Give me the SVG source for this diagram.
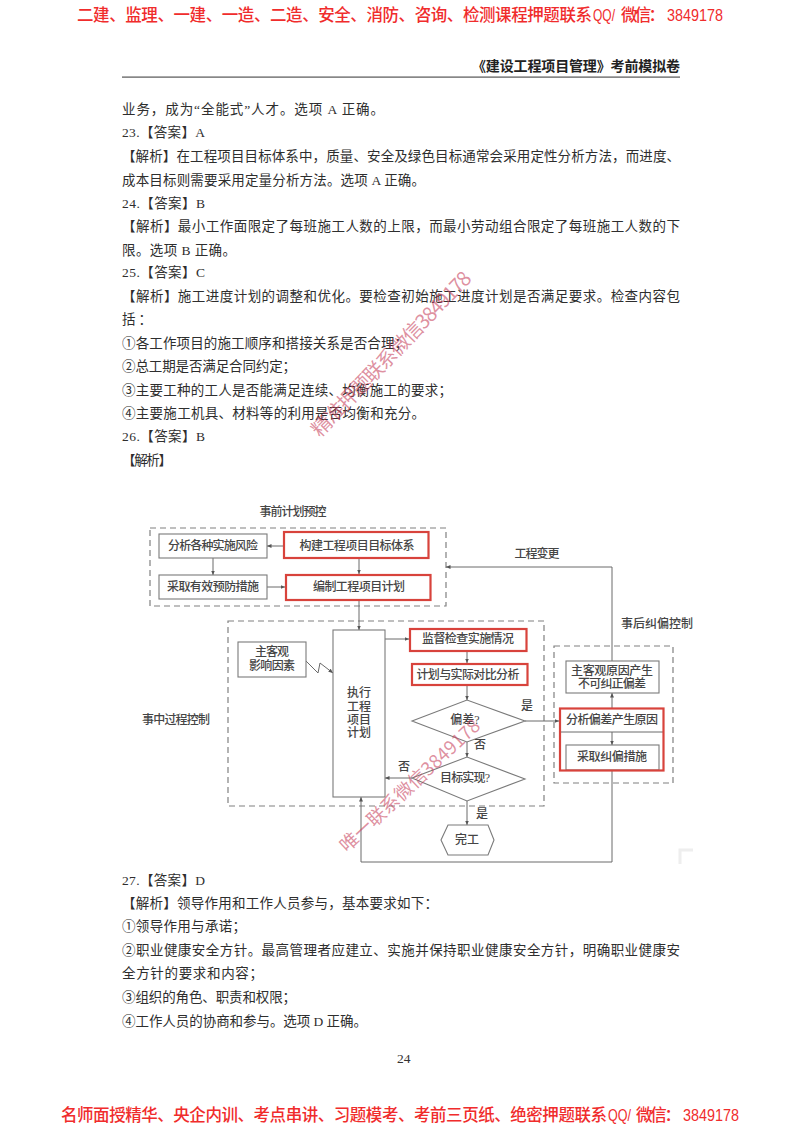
<svg xmlns="http://www.w3.org/2000/svg" width="800" height="1132" viewBox="0 0 800 1132">
<style>
text{font-family:"Liberation Serif","Noto Sans CJK SC",serif}
.b{font-size:13.5px;fill:#2e2e2e}
.hd{font-size:14px;font-weight:700;fill:#222}
.ban{font-size:16.5px;font-weight:500;fill:#f02c2c;font-family:"Liberation Sans","Noto Sans CJK SC",sans-serif}
.t{font-size:12px;fill:#454545;text-anchor:middle;font-weight:500}
.box{fill:#fff;stroke:#7a7a7a;stroke-width:1.1}
.red{fill:none;stroke:#d8433c;stroke-width:2.2}
.dash{fill:none;stroke:#808080;stroke-width:1.2;stroke-dasharray:6 4}
.c{fill:none;stroke:#6a6a6a;stroke-width:1}
.wm{font-size:20px;fill:#c8465f;fill-opacity:.6;font-family:"Noto Sans CJK SC",sans-serif}
</style>
<defs>
<marker id="a" markerWidth="6" markerHeight="6" refX="4.500" refY="2" orient="auto" markerUnits="userSpaceOnUse"><path d="M0 0L4.500 2L0 4z" fill="#555"/></marker>
</defs>
<rect width="800" height="1132" fill="#fff"/>

<g id="page-text">
<text class="ban" x="77" y="20.500" textLength="515">二建、监理、一建、一造、二造、安全、消防、咨询、检测课程押题联系</text>
<text class="ban" x="593" y="20.500" textLength="22" lengthAdjust="spacingAndGlyphs">QQ/</text>
<text class="ban" x="621" y="20.500" textLength="44">微信：</text>
<text class="ban" x="667" y="20.500" textLength="56" lengthAdjust="spacingAndGlyphs">3849178</text>
<text class="hd" x="472" y="71" textLength="208">《建设工程项目管理》考前模拟卷</text>
<rect x="122" y="76.500" width="558" height="1.200" fill="#555"/>
<text class="b" x="122" y="114" textLength="262">业务，成为“全能式”人才。选项 A 正确。</text>
<text class="b" x="122" y="137" textLength="83">23.【答案】A</text>
<text class="b" x="122" y="161" textLength="558">【解析】在工程项目目标体系中，质量、安全及绿色目标通常会采用定性分析方法，而进度、</text>
<text class="b" x="122" y="185" textLength="303">成本目标则需要采用定量分析方法。选项 A 正确。</text>
<text class="b" x="122" y="208" textLength="83">24.【答案】B</text>
<text class="b" x="122" y="231" textLength="558">【解析】最小工作面限定了每班施工人数的上限，而最小劳动组合限定了每班施工人数的下</text>
<text class="b" x="122" y="255" textLength="114">限。选项 B 正确。</text>
<text class="b" x="122" y="277" textLength="83">25.【答案】C</text>
<text class="b" x="122" y="301" textLength="558">【解析】施工进度计划的调整和优化。要检查初始施工进度计划是否满足要求。检查内容包</text>
<text class="b" x="122" y="324" textLength="30">括：</text>
<text class="b" x="122" y="348" textLength="286">①各工作项目的施工顺序和搭接关系是否合理；</text>
<text class="b" x="122" y="371" textLength="174">②总工期是否满足合同约定；</text>
<text class="b" x="122" y="395" textLength="330">③主要工种的工人是否能满足连续、均衡施工的要求；</text>
<text class="b" x="122" y="418" textLength="303">④主要施工机具、材料等的利用是否均衡和充分。</text>
<text class="b" x="122" y="441" textLength="83">26.【答案】B</text>
<text class="b" x="122" y="465" textLength="50">【解析】</text>
<text class="b" x="122" y="885" textLength="83">27.【答案】D</text>
<text class="b" x="122" y="908" textLength="316">【解析】领导作用和工作人员参与，基本要求如下：</text>
<text class="b" x="122" y="931" textLength="124">①领导作用与承诺；</text>
<text class="b" x="122" y="955" textLength="558">②职业健康安全方针。最高管理者应建立、实施并保持职业健康安全方针，明确职业健康安</text>
<text class="b" x="122" y="978" textLength="141">全方针的要求和内容；</text>
<text class="b" x="122" y="1002" textLength="174">③组织的角色、职责和权限；</text>
<text class="b" x="122" y="1026" textLength="245">④工作人员的协商和参与。选项 D 正确。</text>
<text x="397" y="1063" style="font-size:13.5px;fill:#333">24</text>
<text class="ban" x="61" y="1120.500" textLength="546">名师面授精华、央企内训、考点串讲、习题模考、考前三页纸、绝密押题联系</text>
<text class="ban" x="608" y="1120.500" textLength="23" lengthAdjust="spacingAndGlyphs">QQ/</text>
<text class="ban" x="636" y="1120.500" textLength="45">微信：</text>
<text class="ban" x="683" y="1120.500" textLength="56" lengthAdjust="spacingAndGlyphs">3849178</text>
</g>

<g id="regions">
<rect class="dash" x="150" y="528" width="296" height="78"/>
<rect class="dash" x="228" y="621" width="316" height="185"/>
<rect class="dash" x="554" y="646" width="119" height="137"/>
</g>

<g id="connectors">
<path class="c" marker-end="url(#a)" d="M283 546H267"/>
<path class="c" marker-end="url(#a)" d="M213 558V575"/>
<path class="c" marker-end="url(#a)" d="M267 587H285"/>
<path class="c" marker-end="url(#a)" d="M359 558V574"/>
<path class="c" marker-end="url(#a)" d="M359 600V630"/>
<path class="c" marker-end="url(#a)" d="M385 639H409"/>
<path class="c" marker-end="url(#a)" d="M467 651V663"/>
<path class="c" marker-end="url(#a)" d="M467 685V700"/>
<path class="c" marker-end="url(#a)" d="M467 742V757"/>
<path class="c" marker-end="url(#a)" d="M467 801V825"/>
<path class="c" marker-end="url(#a)" d="M412 778H385"/>
<path class="c" marker-end="url(#a)" d="M525 721H559"/>
<path class="c" marker-end="url(#a)" d="M612 708V693"/>
<path class="c" marker-end="url(#a)" d="M612 732V745"/>
<path class="c" marker-end="url(#a)" d="M612 661V567H446"/>
<path class="c" marker-end="url(#a)" d="M612 771V862H361V797"/>
<path class="c" marker-end="url(#a)" d="M306 661L318 673L320 663L333 673"/>
</g>

<g id="n-risk"><rect class="box" x="159" y="534" width="108" height="24"/><text class="t" x="213" y="550" textLength="90">分析各种实施风险</text></g>
<g id="n-goal"><rect class="red" x="284" y="532" width="144.500" height="26"/><text class="t" x="357" y="550" textLength="115">构建工程项目目标体系</text></g>
<g id="n-prevent"><rect class="box" x="159" y="575" width="108" height="24"/><text class="t" x="213" y="591" textLength="92">采取有效预防措施</text></g>
<g id="n-plan"><rect class="red" x="286" y="575" width="144.500" height="25"/><text class="t" x="359" y="591" textLength="92">编制工程项目计划</text></g>
<g id="n-factor"><rect class="box" x="238" y="642" width="68" height="35"/><text class="t" x="272" y="656" textLength="34">主客观</text><text class="t" x="272" y="670" textLength="46">影响因素</text></g>
<g id="n-exec"><rect class="box" x="333" y="630" width="52" height="167"/><text class="t" x="359" y="697">执行</text><text class="t" x="359" y="711">工程</text><text class="t" x="359" y="724">项目</text><text class="t" x="359" y="737">计划</text></g>
<g id="n-monitor"><rect class="red" x="410" y="629" width="116.500" height="22"/><text class="t" x="468" y="643" textLength="92">监督检查实施情况</text></g>
<g id="n-compare"><rect class="red" x="412" y="664" width="115.500" height="21"/><text class="t" x="468" y="679" textLength="103">计划与实际对比分析</text></g>
<g id="n-dev"><polygon class="box" points="412,721 467,700 525,721 467,742"/><text class="t" x="465" y="724">偏差?</text></g>
<g id="n-target"><polygon class="box" points="412,778 467,757 525,779 467,801"/><text class="t" x="465" y="782" textLength="50">目标实现?</text></g>
<g id="n-done"><polygon class="box" points="441,840 448,825 488,825 494,840 488,855 448,855"/><text class="t" x="467" y="844">完工</text></g>
<g id="n-uncorrect"><rect class="box" x="566" y="661" width="93" height="32"/><text class="t" x="612" y="675" textLength="82">主客观原因产生</text><text class="t" x="612" y="688" textLength="68">不可纠正偏差</text></g>
<g id="n-cause"><path class="c" d="M560 732H663"/><text class="t" x="612" y="724" textLength="92">分析偏差产生原因</text></g>
<g id="n-correct"><rect class="box" x="566" y="745" width="93" height="25"/><text class="t" x="612" y="761" textLength="70">采取纠偏措施</text></g>
<rect id="n-red" class="red" x="560" y="708.500" width="103.500" height="62"/>

<g id="labels">
<text class="t" x="293" y="516" textLength="67">事前计划预控</text>
<text class="t" x="176" y="724" textLength="68">事中过程控制</text>
<text class="t" x="537" y="558" textLength="45">工程变更</text>
<text class="t" x="657" y="628" textLength="72">事后纠偏控制</text>
<text class="t" x="527" y="710">是</text>
<text class="t" x="480" y="749">否</text>
<text class="t" x="404" y="771">否</text>
<text class="t" x="482" y="818">是</text>
</g>

<path id="scan-mark" d="M680 864V850H693" fill="none" stroke="#eeeeee" stroke-width="3"/>

<g id="watermarks">
<text class="wm" transform="translate(320 438) rotate(-46)" textLength="220">精准押题联系微信3849178</text>
<text class="wm" transform="translate(347 853) rotate(-43)" style="font-size:18.500px" textLength="184">唯一联系微信3849178</text>
</g>
</svg>
